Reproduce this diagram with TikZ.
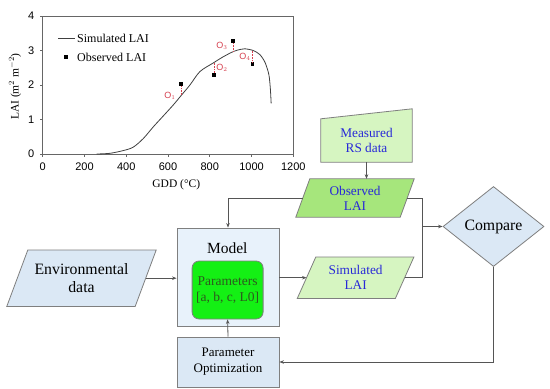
\documentclass[tikz,border=0pt]{standalone}
\usepackage{fontspec}
\setmainfont{Liberation Serif}
\newfontfamily\arialf{Liberation Sans}
\usetikzlibrary{shapes.geometric,arrows.meta}
\definecolor{lgreen}{HTML}{D6F5C1}
\definecolor{mgreen}{HTML}{A6E67C}
\definecolor{bgreen}{HTML}{14F014}
\definecolor{dgreen}{HTML}{2D5A1E}
\definecolor{lblue}{HTML}{DBE8F5}
\definecolor{mblue}{HTML}{E8F2FB}
\definecolor{txtblue}{HTML}{2828D8}
\definecolor{ored}{HTML}{D6404F}
\definecolor{edge}{HTML}{7F7F7F}
\definecolor{conn}{HTML}{555555}
\newcommand\myparadraw[3]{%
  \filldraw[fill=#3,draw=edge,line width=0.8pt]
    ([xshift=-#2]#1.south west) -- ([xshift=-#2]#1.south east) --
    ([xshift=#2]#1.north east) -- ([xshift=#2]#1.north west) -- cycle;}
\begin{document}
\begin{tikzpicture}[x=1pt,y=-1pt,
  axis/.style={draw=black!60,line width=0.6pt},
  ticklab/.style={font=\arialf\fontsize{11}{12}\selectfont,inner sep=0pt},
  obsq/.style={fill=black,draw=none,minimum size=3.8pt,inner sep=0pt},
  olab/.style={font=\arialf\fontsize{9}{10}\selectfont,text=ored,inner sep=0pt},
  odot/.style={draw=ored,densely dotted,line width=0.6pt},
  shp/.style={draw=edge,line width=0.8pt,align=center,inner sep=1pt},
  frame/.style={inner sep=0pt,draw=none},
  arr/.style={draw=conn,line width=0.8pt,-{Stealth[length=4.5pt,width=3.5pt]}},
  ln/.style={draw=conn,line width=0.8pt},
  btxt/.style={text=txtblue,font=\fontsize{13.3}{15}\selectfont,align=center,inner sep=0pt},
  ktxt/.style={font=\fontsize{15.8}{18}\selectfont,align=center,inner sep=0pt}]
\useasboundingbox (0,0) rectangle (550,389);
\fill[white] (0,0) rectangle (550,389);

% ---------------- chart ----------------
\begin{scope}[shift={(42.7pt,-154pt)},x=0.20883pt,y=34.5pt]
  \draw[axis] (0,0) rectangle (1200,4);
  \foreach \g in {0,200,...,1200}{
    \draw[axis] (\g,0) -- ++(0,-0.08);
    \node[ticklab] (xt\g) at (\g,-0.37) {\g};
  }
  \foreach \v in {0,...,4}{
    \draw[axis] (0,\v) -- ++(-14,0);
    \node[ticklab,anchor=east] (yt\v) at (-40,\v) {\v};
  }
  \draw[black!75,line width=0.8pt] plot[smooth,tension=0.5] coordinates {
    (258,0) (322,0.02) (386,0.1) (434,0.2) (482,0.45) (530,0.79) (577,1.1)
    (625,1.42) (665,1.71) (705,2.0) (753,2.39) (817,2.64) (865,2.82)
    (913,2.97) (945,3.03) (968,3.05) (1008,3.0) (1040,2.88) (1065,2.65)
    (1083,2.3) (1090,1.9) (1094,1.47)};
  \node[obsq] (p1) at (662,2.02) {};
  \node[obsq] (p2) at (822,2.29) {};
  \node[obsq] (p3) at (913,3.28) {};
  \node[obsq] (p4) at (1005,2.6) {};
  \coordinate (c1) at (662,1.72);
  \coordinate (c2) at (822,2.67);
  \coordinate (c3) at (913,2.97);
  \coordinate (c4) at (1005,3.0);
  \draw[odot] (p1.south) -- (c1);
  \draw[odot] (p2.north) -- (c2);
  \draw[odot] (p3.south) -- (c3);
  \draw[odot] (p4.north) -- (c4);
\end{scope}
\node[olab] (o1) at (170,95.5) {O$_1$};
\node[olab] (o2) at (222,68.3) {O$_2$};
\node[olab] (o3) at (222,46) {O$_3$};
\node[olab] (o4) at (245,57) {O$_4$};
\node[font=\fontsize{11.5}{13}\selectfont] (gdd) at (176.3,185) {GDD (°C)};
\node[font=\fontsize{11.5}{13}\selectfont,rotate=90] (lai) at (15,86.7) {LAI (m$^2$ m$^{-2}$)};
\coordinate (lg1) at (58,38);
\coordinate (lg2) at (75,38);
\draw[black!75,line width=0.8pt] (lg1) -- (lg2);
\node[font=\fontsize{12}{14}\selectfont,anchor=west,inner sep=0pt] (lgs) at (77,38) {Simulated LAI};
\node[obsq] (lgq) at (66,57) {};
\node[font=\fontsize{12}{14}\selectfont,anchor=west,inner sep=0pt] (lgo) at (77,57) {Observed LAI};

% ---------------- flowchart ----------------
\node[frame,minimum width=91pt,minimum height=43pt] (meas) at (366.5,140.5) {};
\filldraw[fill=lgreen,draw=edge,line width=0.8pt] (meas.south west) -- (meas.south east) -- ([yshift=10pt]meas.north east) -- (meas.north west) -- cycle;
\node[btxt] (meast) at (meas) {Measured\\RS data};

\node[frame,minimum width=104pt,minimum height=38pt] (obs) at (355,198) {};
\myparadraw{obs}{7pt}{mgreen}
\node[btxt] (obst) at (obs) {Observed\\LAI};

\node[frame,minimum width=97.7pt,minimum height=41pt] (sim) at (355.6,277.7) {};
\myparadraw{sim}{9.25pt}{lgreen}
\node[btxt] (simt) at (sim) {Simulated\\LAI};

\node[frame,minimum width=128pt,minimum height=56pt] (env) at (81.5,278.2) {};
\myparadraw{env}{10.5pt}{lblue}
\node[ktxt] (envt) at (env) {Environmental\\data};

\node[shp,diamond,fill=lblue,ktxt,minimum width=101pt,minimum height=80pt,inner sep=0pt] (cmp) at (493.5,226.5) {Compare};

\node[shp,fill=mblue,minimum width=102pt,minimum height=98pt] (model) at (228,277) {};
\node[ktxt,font=\fontsize{15.5}{18}\selectfont] (mlab) at (227.3,248.4) {Model};
\node[shp,fill=bgreen,rounded corners=7pt,minimum width=71pt,minimum height=58pt,
  text=dgreen,font=\fontsize{13.5}{16}\selectfont] (par) at (227.6,290) {Parameters\\{[a, b, c, L0]}};
\node[shp,fill=lblue,minimum width=102pt,minimum height=50pt,
  font=\fontsize{13}{16}\selectfont] (opt) at (228,362) {Parameter\\Optimization};

\coordinate (jn) at (422.7,226.5);
\draw[arr] (meas.south) -- (meas.south |- obs.north);
\draw[ln] (obs.east) -| (jn) |- (sim.east);
\draw[arr] (jn) -- (cmp.west);
\draw[arr] (obs.west) -| (model.north);
\draw[arr] (env.east) -- (env.east -| model.west);
\draw[arr] (sim.west -| model.east) -- (sim.west);
\draw[arr] (opt.north) -- (par.south);
\draw[arr] (cmp.south) |- (opt.east);
\end{tikzpicture}
\end{document}
